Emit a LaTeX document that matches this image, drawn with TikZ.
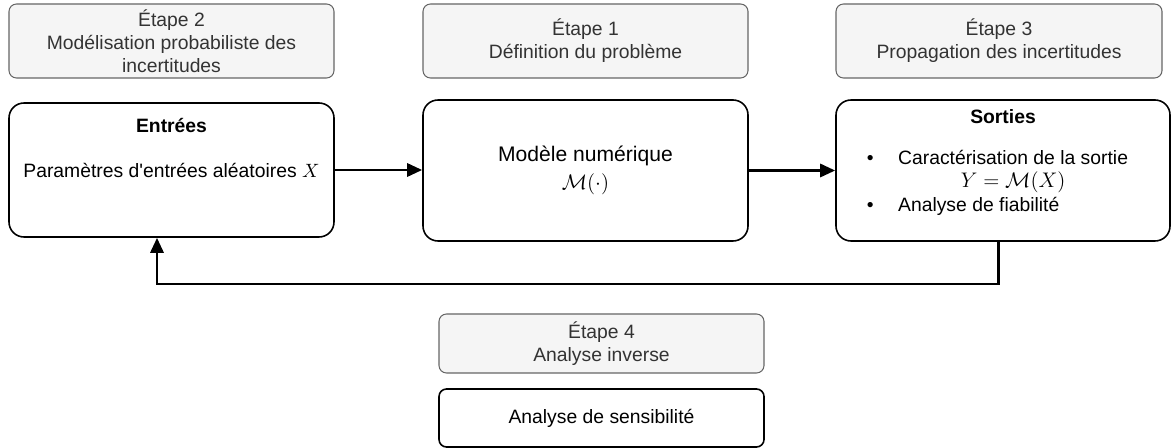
\documentclass[tikz,border=0pt]{standalone}
\usepackage[no-math]{fontspec}
\setmainfont{Liberation Sans}
\usepackage{amsmath}
\usetikzlibrary{arrows.meta}

\definecolor{etapefill}{HTML}{F5F5F5}
\definecolor{etapeline}{HTML}{666666}
\definecolor{etapetext}{HTML}{333333}

\begin{document}
\begin{tikzpicture}[font=\fontsize{11}{13}\selectfont,
  etape/.style={draw=etapeline, fill=etapefill, text=etapetext, line width=0.6pt,
    rounded corners=0.15cm, minimum width=6.5cm, minimum height=1.48cm, align=center, inner sep=0pt},
  bloc/.style={draw, line width=0.9pt, rounded corners=0.3cm,
    minimum width=6.5cm, minimum height=2.82cm, align=center, inner sep=0pt},
  fleche/.style={line width=1.7pt, -{Triangle[length=3mm,width=2.6mm]}}]
\useasboundingbox (0,0) rectangle (23.42,-8.96);

\draw (3.43,-0.82) node[etape] (E2) {Étape 2\\Modélisation probabiliste des\\incertitudes};
\draw (11.71,-0.82) node[etape] (E1) {Étape 1\\Définition du problème};
\draw (19.98,-0.82) node[etape, minimum width=6.52cm] (E3) {Étape 3\\Propagation des incertitudes};

\draw (3.43,-3.40) node[bloc, minimum height=2.68cm] (ENT) {Paramètres d\textquotesingle entrées aléatoires $X$};
\draw (3.43,-2.52) node (ENTt) {\bfseries Entrées};
\draw (11.71,-3.41) node[bloc, font=\fontsize{12}{14}\selectfont] (MOD) {Modèle numérique\\[2pt]$\mathcal{M}(\cdot)$};
\draw (20.06,-3.41) node[bloc, minimum width=6.68cm] (SOR) {};
\draw (20.06,-2.34) node (SORt) {\bfseries Sorties};
\draw (17.33,-3.67) node[anchor=west, inner sep=0pt] (SORl) {%
  \begin{tabular}{@{}l@{\hspace{0.49cm}}l@{}}
  • & Caractérisation de la sortie\\
    & \multicolumn{1}{c}{\fontsize{12.5}{14}\selectfont$Y=\mathcal{M}(X)$}\\[1pt]
  • & Analyse de fiabilité
  \end{tabular}};

\draw (12.03,-6.87) node[etape, minimum height=1.18cm] (E4) {Étape 4\\Analyse inverse};
\draw (12.03,-8.36) node[bloc, rounded corners=0.15cm, minimum height=1.16cm] (SEN) {Analyse de sensibilité};

\coordinate (R) at (19.96,-5.68);
\coordinate (L) at (3.14,-5.68);

\draw[fleche] (ENT.east) -- (ENT.east -| MOD.west);
\draw[fleche] (MOD.east) -- (SOR.west);
\draw[fleche] (SOR.south -| R) -- (R) -- (L) -- (ENT.south -| L);
\end{tikzpicture}
\end{document}
